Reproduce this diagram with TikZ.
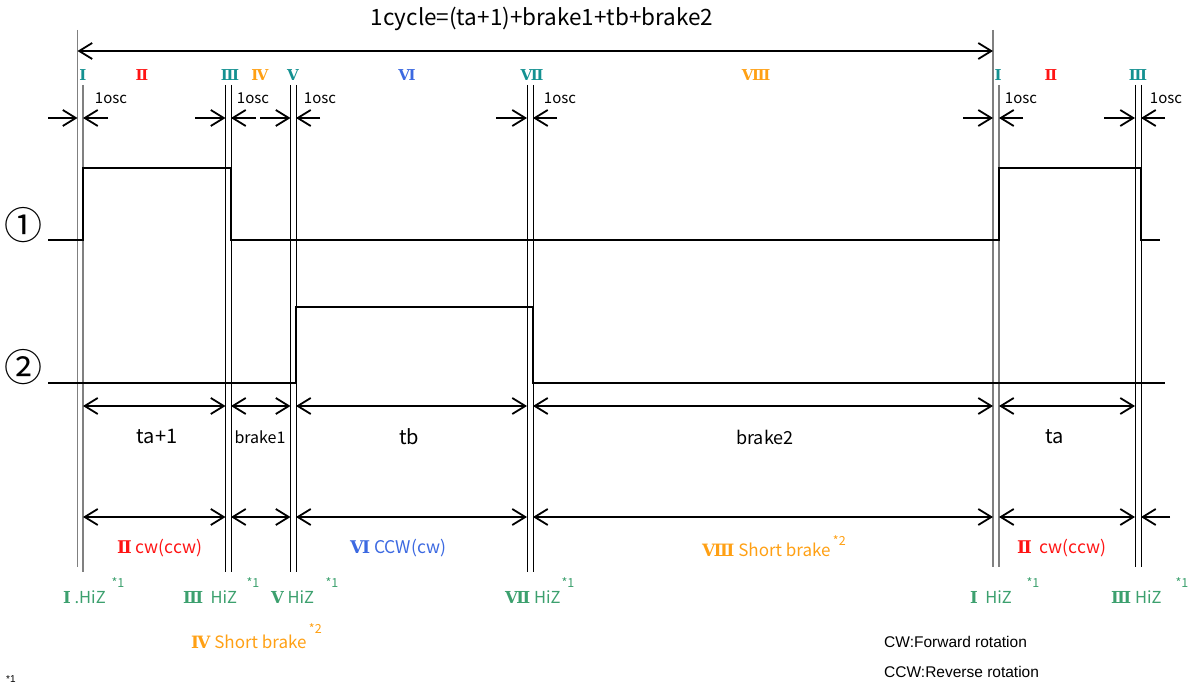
\documentclass[tikz,border=0pt]{standalone}
\usepackage{fontspec}
\usetikzlibrary{arrows.meta}
\newfontfamily\jpfont{Noto Sans CJK JP}
\newfontfamily\rnfont{DejaVu Serif}
\newfontfamily\legfont{Liberation Sans}
\newcommand\phasenum[1]{{\rnfont\bfseries #1}}
\definecolor{numteal}{RGB}{20,145,145}
\definecolor{numred}{RGB}{255,20,20}
\definecolor{numorange}{RGB}{255,160,20}
\definecolor{numblue}{RGB}{60,105,225}
\definecolor{hizgreen}{RGB}{60,160,110}
\definecolor{guidegray}{RGB}{128,128,128}
% x positions of the guide lines (pairs: I, III, V, VII, I, III)
\def\pA{77.5}\def\pB{83}
\def\pC{225.5}\def\pD{231}
\def\pE{290.5}\def\pF{296}
\def\pG{527}\def\pH{533}
\def\pI{993}\def\pJ{999}
\def\pK{1135}\def\pL{1141}
\begin{document}
\begin{tikzpicture}[x=1pt,y=-1pt,
  >={Straight Barb[length=13pt,width=16pt]},
  guide/.style={line width=0.9pt, draw=black},
  grayguide/.style={line width=1.4pt, draw=guidegray},
  sig/.style={line width=2pt, line join=miter},
  dim/.style={line width=1.8pt},
  rn/.style={font=\rnfont\bfseries\fontsize{15}{18}\selectfont, inner sep=0pt},
  osc/.style={font=\jpfont\fontsize{15}{17}\selectfont, inner sep=0pt},
  big/.style={font=\jpfont\fontsize{20}{23}\selectfont, inner sep=0pt},
  mid/.style={font=\jpfont\fontsize{17.5}{20}\selectfont, inner sep=0pt},
  hiz/.style={font=\jpfont\fontsize{16.5}{20}\selectfont, inner sep=0pt, text=hizgreen, anchor=west},
  brk/.style={font=\jpfont\fontsize{17}{20}\selectfont, inner sep=0pt, text=numorange, anchor=west},
  supr/.style={font=\jpfont\fontsize{12.5}{14}\selectfont, inner sep=0pt},
  leg/.style={font=\legfont\fontsize{15.5}{18}\selectfont, inner sep=0pt, anchor=west},
  circ/.style={font=\jpfont\fontsize{38}{40}\selectfont, inner sep=0pt}
]
\useasboundingbox (0,0) rectangle (1192,684);

% guide lines
\draw[grayguide] (\pA,30) -- (\pA,567);
\draw[grayguide] (\pB,85) -- (\pB,572);
\foreach \x in {\pC,\pD,\pE,\pF,\pG,\pH}
  \draw[guide] (\x,85) -- (\x,572);
\draw[grayguide] (\pI,30) -- (\pI,567);
\draw[grayguide] (\pJ,85) -- (\pJ,567);
\foreach \x in {\pK,\pL}
  \draw[guide] (\x,85) -- (\x,567);

% cycle length
\node[font=\jpfont\fontsize{22.5}{26}\selectfont, inner sep=0pt] (title) at (542,19) {1cycle=(ta+1)+brake1+tb+brake2};
\draw[dim,<->] (\pA,51) -- (\pI,51);

% phase numerals
\node[rn, text=numteal]   (nI)    at (83,75)   {Ⅰ};
\node[rn, text=numred]    (nII)   at (142,75)  {Ⅱ};
\node[rn, text=numteal]   (nIII)  at (230,75)  {Ⅲ};
\node[rn, text=numorange] (nIV)   at (260,75)  {Ⅳ};
\node[rn, text=numteal]   (nV)    at (293,75)  {Ⅴ};
\node[rn, text=numblue]   (nVI)   at (407,75)  {Ⅵ};
\node[rn, text=numteal]   (nVII)  at (532,75)  {Ⅶ};
\node[rn, text=numorange] (nVIII) at (756,75)  {Ⅷ};
\node[rn, text=numteal]   (nIb)   at (998,75)  {Ⅰ};
\node[rn, text=numred]    (nIIb)  at (1051,75) {Ⅱ};
\node[rn, text=numteal]   (nIIIb) at (1138,75) {Ⅲ};

% 1osc gaps
\node[osc] (oA) at (111,98)  {1osc};
\node[osc] (oB) at (253,98)  {1osc};
\node[osc] (oC) at (320,98)  {1osc};
\node[osc] (oD) at (560,98)  {1osc};
\node[osc] (oE) at (1021,98) {1osc};
\node[osc] (oF) at (1166,98) {1osc};
\draw[dim,->] (48,118) -- (\pA,118);
\draw[dim,->] (108,118) -- (\pB,118);
\draw[dim,->] (195,118) -- (\pC,118);
\draw[dim,->] (256,118) -- (\pD,118);
\draw[dim,->] (260,118) -- (\pE,118);
\draw[dim,->] (320,118) -- (\pF,118);
\draw[dim,->] (496,118) -- (\pG,118);
\draw[dim,->] (557,118) -- (\pH,118);
\draw[dim,->] (963,118) -- (\pI,118);
\draw[dim,->] (1023,118) -- (\pJ,118);
\draw[dim,->] (1104,118) -- (\pK,118);
\draw[dim,->] (1165,118) -- (\pL,118);

% signals
\node[circ] (s1) at (24,225) {①};
\node[circ] (s2) at (24,367) {②};
\draw[sig] (48,240) -- (\pB,240) -- (\pB,168) -- (\pD,168) -- (\pD,240)
  -- (\pJ,240) -- (\pJ,168) -- (\pL,168) -- (\pL,240) -- (1160,240);
\draw[sig] (48,383) -- (\pF,383) -- (\pF,307) -- (\pH,307) -- (\pH,383) -- (1165,383);

% durations
\draw[dim,<->] (\pB,406) -- (\pC,406);
\draw[dim,<->] (\pD,406) -- (\pE,406);
\draw[dim,<->] (\pF,406) -- (\pG,406);
\draw[dim,<->] (\pH,406) -- (\pI,406);
\draw[dim,<->] (\pJ,406) -- (\pK,406);
\node[big] (dA) at (157,437) {ta+1};
\node[font=\jpfont\fontsize{16}{18}\selectfont, inner sep=0pt] (dB) at (260,437) {brake1};
\node[big] (dC) at (409,437) {tb};
\node[font=\jpfont\fontsize{18}{21}\selectfont, inner sep=0pt] (dD) at (765,437) {brake2};
\node[big] (dE) at (1055,437) {ta};

% drive states
\draw[dim,<->] (\pB,517) -- (\pC,517);
\draw[dim,<->] (\pD,517) -- (\pE,517);
\draw[dim,<->] (\pF,517) -- (\pG,517);
\draw[dim,<->] (\pH,517) -- (\pI,517);
\draw[dim,<->] (\pJ,517) -- (\pK,517);
\draw[dim,->] (1170,517) -- (\pL,517);
\node[mid, text=numred, anchor=west]    (stA) at (117,548)  {\phasenum{Ⅱ} cw(ccw)};
\node[mid, text=numblue, anchor=west]   (stB) at (350,548)  {\phasenum{Ⅵ} CCW(cw)};
\node[brk] (stC) at (702,550)  {\phasenum{Ⅷ} Short brake};
\node[supr, text=numorange, anchor=west] (stCs) at ([xshift=2pt,yshift=9pt]stC.east) {*2};
\node[mid, text=numred, anchor=west]    (stD) at (1017,548) {\phasenum{Ⅱ}\ \ cw(ccw)};

% high impedance states
\node[hiz] (hA) at (63,597)   {\phasenum{Ⅰ} .HiZ};
\node[supr, text=hizgreen] (hAs) at (118,583) {*1};
\node[hiz] (hB) at (183,597)  {\phasenum{Ⅲ}\ \ HiZ};
\node[supr, text=hizgreen] (hBs) at (253,583) {*1};
\node[hiz] (hC) at (271,597)  {\phasenum{Ⅴ}\ HiZ};
\node[supr, text=hizgreen] (hCs) at (332,583) {*1};
\node[hiz] (hD) at (505,597)  {\phasenum{Ⅶ}\ HiZ};
\node[supr, text=hizgreen] (hDs) at (568,583) {*1};
\node[hiz] (hE) at (970,597)  {\phasenum{Ⅰ}\ \ HiZ};
\node[supr, text=hizgreen] (hEs) at (1033,583) {*1};
\node[hiz] (hF) at (1111,597) {\phasenum{Ⅲ}\ HiZ};
\node[supr, text=hizgreen] (hFs) at (1182,583) {*1};

\node[brk] (bk) at (191,642) {\phasenum{Ⅳ} Short brake};
\node[supr, text=numorange, anchor=west] (bks) at ([xshift=2pt,yshift=13pt]bk.east) {*2};

% legend
\node[leg] (lgA) at (884,642) {CW:Forward rotation};
\node[leg] (lgB) at (884,672) {CCW:Reverse rotation};
\node[font=\legfont\fontsize{10}{11}\selectfont, inner sep=0pt, anchor=south west] (fn) at (6,683) {*1};
\end{tikzpicture}
\end{document}
